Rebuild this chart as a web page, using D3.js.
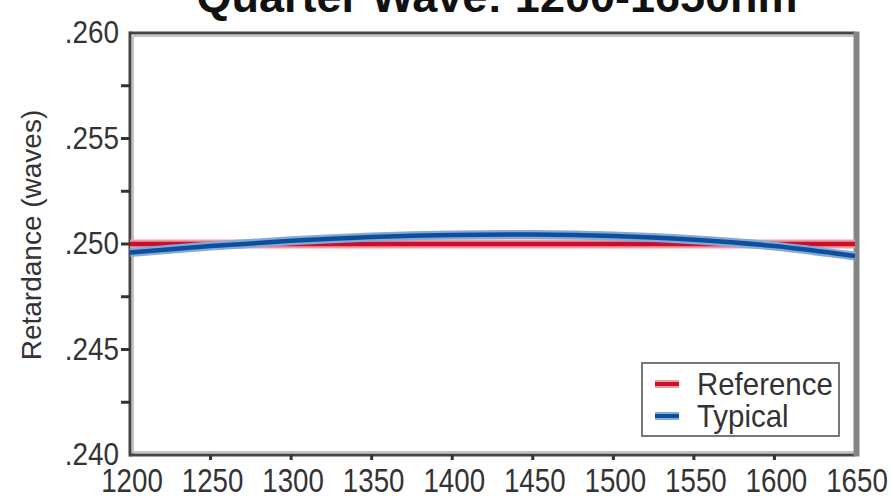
<!DOCTYPE html>
<html>
<head>
<meta charset="utf-8">
<script src="https://cdn.jsdelivr.net/npm/d3@7"></script>
<style>
    html, body { margin: 0; padding: 0; background: #fff; }
    svg { display: block; font-family: "Liberation Sans", Arial, sans-serif; }
</style>
</head>
<body>
<div id="chart"></div>
<script>
"use strict";

// wavelengths (nm) the curves are read at
var wavelengths = [1200, 1250, 1300, 1350, 1400, 1450, 1500, 1550, 1600, 1650];
// retardance values (waves)
var referenceValues = [0.2500, 0.2500, 0.2500, 0.2500, 0.2500, 0.2500, 0.2500, 0.2500, 0.2500, 0.2500];
var typicalValues = [0.24960, 0.24990, 0.25015, 0.25033, 0.25043, 0.25045, 0.25038, 0.25020, 0.24990, 0.24943];

var xTicks = [1200, 1250, 1300, 1350, 1400, 1450, 1500, 1550, 1600, 1650];
var yTicks = [0.240, 0.245, 0.250, 0.255, 0.260];
var yTickLabels = [".240", ".245", ".250", ".255", ".260"];
var yMinorTicks = [0.2425, 0.2475, 0.2525, 0.2575];
var seriesNames = ["Reference", "Typical"];

var width = 893, height = 496;
var plot = { left: 130, right: 855, top: 33, bottom: 455 };

var x = d3.scaleLinear().domain([1200, 1650]).range([plot.left, plot.right]);
var y = d3.scaleLinear().domain([0.240, 0.260]).range([plot.bottom, plot.top]);

var svg = d3.select("#chart").append("svg")
    .attr("width", width)
    .attr("height", height);

//title, mostly cut off by the top edge
svg.append("text")
    .attr("x", 497)
    .attr("y", 12)
    .attr("text-anchor", "middle")
    .attr("font-weight", "bold")
    .attr("font-size", 45)
    .attr("fill", "#111")
    .text("Quarter Wave: 1200-1650nm");

//plot frame: dark top/left/bottom, grey shadow on the right, light inner edge
svg.append("line").attr("x1", plot.left + 3).attr("x2", plot.right).attr("y1", plot.top + 3).attr("y2", plot.top + 3)
    .attr("stroke", "#c4c4c4").attr("stroke-width", 2);
svg.append("line").attr("x1", plot.left + 3).attr("x2", plot.left + 3).attr("y1", plot.top + 3).attr("y2", plot.bottom)
    .attr("stroke", "#c4c4c4").attr("stroke-width", 2);
svg.append("line").attr("x1", plot.left).attr("x2", plot.right).attr("y1", plot.bottom - 3).attr("y2", plot.bottom - 3)
    .attr("stroke", "#c4c4c4").attr("stroke-width", 2);

svg.append("line").attr("x1", plot.left).attr("x2", plot.right).attr("y1", plot.top).attr("y2", plot.top)
    .attr("stroke", "#444").attr("stroke-width", 3);
svg.append("line").attr("x1", plot.left).attr("x2", plot.left).attr("y1", plot.top - 1.5).attr("y2", plot.bottom + 1.5)
    .attr("stroke", "#444").attr("stroke-width", 3);
svg.append("line").attr("x1", plot.left).attr("x2", plot.right).attr("y1", plot.bottom).attr("y2", plot.bottom)
    .attr("stroke", "#444").attr("stroke-width", 3);
svg.append("line").attr("x1", plot.right + 1.5).attr("x2", plot.right + 1.5).attr("y1", plot.top - 1.5).attr("y2", plot.bottom + 1.5)
    .attr("stroke", "#858585").attr("stroke-width", 6);

//y ticks (major + minor) and labels
svg.append("g").selectAll("line")
    .data(yTicks.slice(1, -1).concat(yMinorTicks))
    .enter().append("line")
    .attr("x1", plot.left - 9).attr("x2", plot.left)
    .attr("y1", function(d) { return y(d); })
    .attr("y2", function(d) { return y(d); })
    .attr("stroke", "#333").attr("stroke-width", 3);

svg.append("g").selectAll("g")
    .data(yTicks)
    .enter().append("g")
    .attr("transform", function(d) { return "translate(119," + y(d) + ")"; })
    .append("text")
    .attr("transform", "scale(0.87,1)")
    .attr("text-anchor", "end")
    .attr("dy", "0.32em")
    .attr("font-size", 32)
    .attr("fill", "#333")
    .text(function(d, i) { return yTickLabels[i]; });

//x ticks and labels
svg.append("g").selectAll("line")
    .data(xTicks.slice(1, -1))
    .enter().append("line")
    .attr("x1", function(d) { return x(d); })
    .attr("x2", function(d) { return x(d); })
    .attr("y1", plot.bottom).attr("y2", plot.bottom + 5)
    .attr("stroke", "#333").attr("stroke-width", 3);

svg.append("g").selectAll("g")
    .data(xTicks)
    .enter().append("g")
    .attr("transform", function(d) { return "translate(" + (x(d) + 2) + ",492)"; })
    .append("text")
    .attr("transform", "scale(0.84,1)")
    .attr("text-anchor", "middle")
    .attr("font-size", 33)
    .attr("fill", "#333")
    .text(function(d) { return d; });

//y axis title
svg.append("text")
    .attr("transform", "translate(41,235) rotate(-90)")
    .attr("text-anchor", "middle")
    .attr("font-size", 28)
    .attr("fill", "#333")
    .text("Retardance (waves)");

//the series
var line = d3.line()
    .x(function(d, i) { return x(wavelengths[i]); })
    .y(function(d) { return y(d); })
    .curve(d3.curveNatural);

var series = [
    { name: seriesNames[0], values: referenceValues, halo: "#ee9aa3", core: "#c8102e" },
    { name: seriesNames[1], values: typicalValues, halo: "#86a9d6", core: "#0c4f9f" }
];

var seriesG = svg.append("g").selectAll("g")
    .data(series)
    .enter().append("g");

seriesG.append("path")
    .attr("d", function(d) { return line(d.values); })
    .attr("fill", "none")
    .attr("stroke", function(d) { return d.halo; })
    .attr("stroke-width", 9);

seriesG.append("path")
    .attr("d", function(d) { return line(d.values); })
    .attr("fill", "none")
    .attr("stroke", function(d) { return d.core; })
    .attr("stroke-width", 4.5);

//legend
var legend = svg.append("g").attr("transform", "translate(642,363)");

legend.append("rect")
    .attr("width", 197)
    .attr("height", 73)
    .attr("fill", "#fff")
    .attr("stroke", "#777")
    .attr("stroke-width", 2);

var legendItem = legend.selectAll(".legend-item")
    .data(series)
    .enter().append("g")
    .attr("class", "legend-item")
    .attr("transform", function(d, i) { return "translate(0," + (21 + i * 32) + ")"; });

legendItem.append("line")
    .attr("x1", 13).attr("x2", 37)
    .attr("stroke", function(d) { return d.halo; })
    .attr("stroke-width", 8);
legendItem.append("line")
    .attr("x1", 13).attr("x2", 37)
    .attr("stroke", function(d) { return d.core; })
    .attr("stroke-width", 4);

legendItem.append("g")
    .attr("transform", "translate(55,0)")
    .append("text")
    .attr("transform", "scale(0.92,1)")
    .attr("dy", "0.34em")
    .attr("font-size", 32)
    .attr("fill", "#333")
    .text(function(d) { return d.name; });
</script>
</body>
</html>
